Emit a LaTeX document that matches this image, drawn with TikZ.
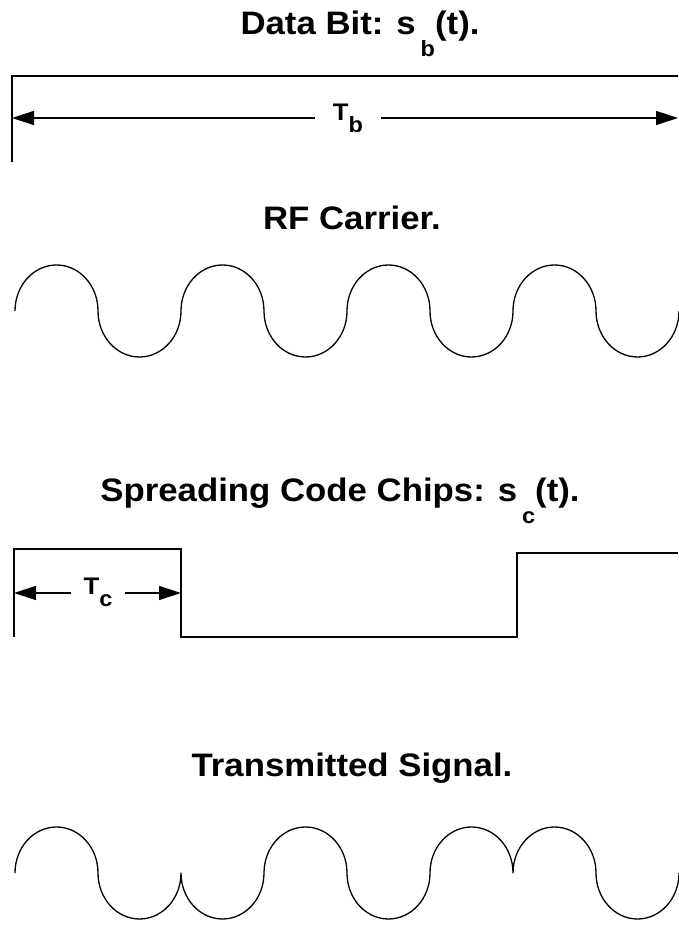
\documentclass[tikz,border=0pt]{standalone}
\usepackage{fontspec}
\setmainfont{Liberation Sans}[FakeStretch=1.07]
\usetikzlibrary{arrows.meta,positioning}

\newcommand{\ttlsub}[1]{\hspace{5pt}\raisebox{-22pt}{\fontsize{22}{22}\selectfont #1}}
\newcommand{\lblsub}[1]{\raisebox{-12pt}{\fontsize{22}{22}\selectfont #1}}

\begin{document}
\begin{tikzpicture}[x=1pt,y=1pt,line width=1.4pt,
    title/.style={font=\fontsize{32.5}{36}\selectfont\bfseries, anchor=base, inner sep=0pt},
    lbl/.style={font=\fontsize{24}{26}\selectfont\bfseries, anchor=base, inner xsep=17pt, inner ysep=0pt},
    dim/.style={-{Triangle[length=22pt,width=14pt]}},
    wave/.style={line width=1.3pt, line join=round}]
    \useasboundingbox (0,0) rectangle (678,925);
    % titles
    \node[title] (tbit) at (360,890) {Data Bit: s\ttlsub{b}(t).};
    \node[title] (tcar) at (352,695) {RF Carrier.};
    \node[title] (tchip) at (340,423) {Spreading Code Chips: s\ttlsub{c}(t).};
    \node[title] (ttx) at (352,148) {Transmitted Signal.};
    % data bit, one bit period
    \draw (678,849) -- (12,849) -- (12,763);
    \coordinate (tbL) at (12,807);
    \coordinate (tbR) at (678,807);
    \node[lbl] (tb) at (348,804) {T\lblsub{b}};
    \draw[dim] (tb.west |- tbL) -- (tbL);
    \draw[dim] (tb.east |- tbR) -- (tbR);
    % carrier, four cycles
    \draw[wave] (15,614) \foreach \s in {1,-1,1,-1,1,-1,1,-1}{
      arc[start angle=180, end angle=180-180*\s, x radius=41.5, y radius=46]};
    % chips
    \draw (14,288) -- (14,376) -- (181,376) -- (181,288) -- (517,288) -- (517,372) -- (678,372);
    \coordinate (tcL) at (14,332);
    \coordinate (tcR) at (181,332);
    \node[lbl, inner xsep=12pt] (tc) at (98,330) {T\lblsub{c}};
    \draw[dim] (tc.west |- tcL) -- (tcL);
    \draw[dim] (tc.east |- tcR) -- (tcR);
    % carrier times chips
    \draw[wave] (15,52) \foreach \s in {1,-1,-1,1,-1,1,1,-1}{
      arc[start angle=180, end angle=180-180*\s, x radius=41.5, y radius=46]};
\end{tikzpicture}
\end{document}
